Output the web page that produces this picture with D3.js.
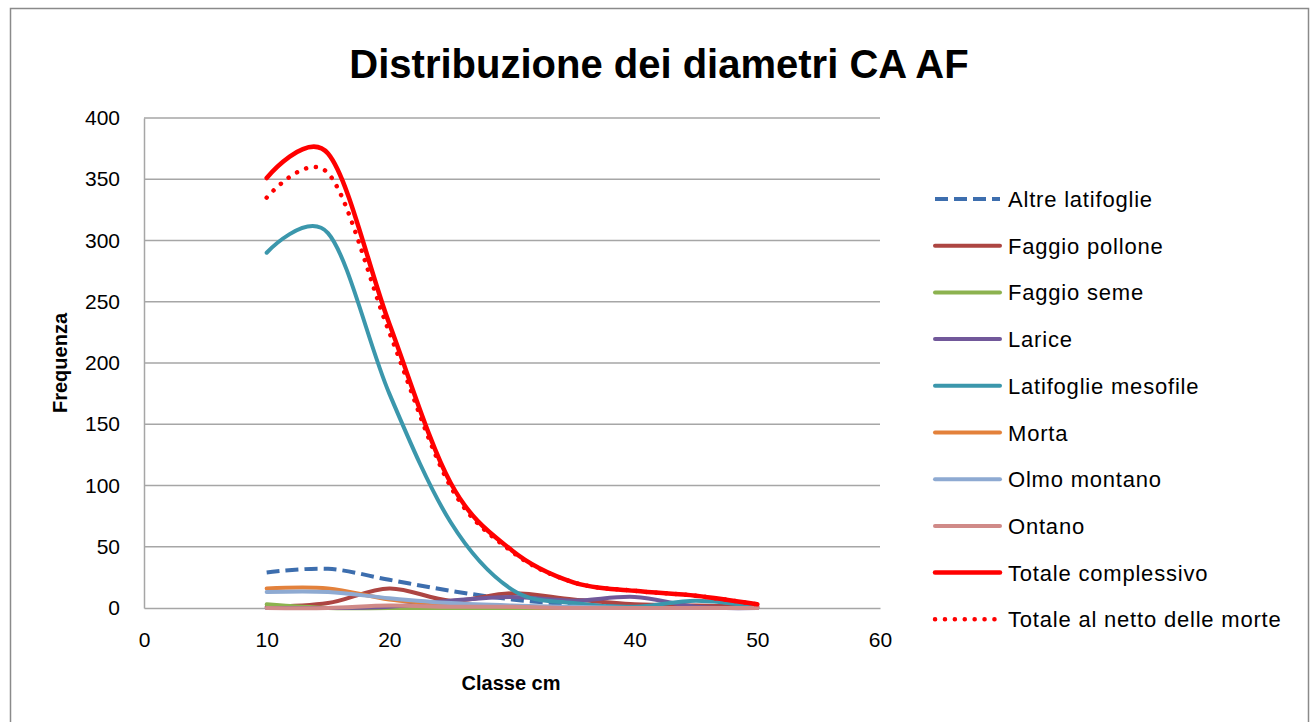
<!DOCTYPE html>
<html>
<head>
<meta charset="utf-8">
<script src="https://cdn.jsdelivr.net/npm/d3@7"></script>
<style>
  html, body { margin: 0; padding: 0; background: #fff; }
  svg { display: block; }
  text { font-family: "Liberation Sans", Arial, sans-serif; fill: #000; }
</style>
</head>
<body>
<svg id="chart" width="1312" height="722"></svg>
<script>
// ---- Data ----
const classes = [10, 15, 20, 25, 30, 35, 40, 45, 50];
const altreLatifoglie     = [29, 32, 23, 14, 7, 3, 1, 1, 0];
const faggioPollone       = [1, 4, 16, 6, 12, 7, 3, 2, 1];
const faggioSeme          = [3, 0, 0, 0, 0, 0, 0, 0, 0];
const larice              = [0, 0, 1, 6, 9, 6, 9, 1, 0];
const latifoglieMesofile  = [290, 306, 175, 70, 15, 4, 1, 6, 1];
const morta               = [16, 16, 7, 3, 1, 0, 0, 0, 0];
const olmoMontano         = [13, 13, 8, 4, 2, 1, 0, 0, 0];
const ontano              = [0, 0, 2, 1, 1, 0, 0, 0, 0];
const totaleComplessivo   = [351, 371, 232, 102, 47, 21, 14, 10, 3];
const totaleNetto         = [335, 355, 225, 99, 46, 21, 14, 10, 3];

const yTicks = [0, 50, 100, 150, 200, 250, 300, 350, 400];
const xTicks = [0, 10, 20, 30, 40, 50, 60];

const title = "Distribuzione dei diametri CA AF";
const xTitle = "Classe cm";
const yTitle = "Frequenza";

const series = [
  { name: "Altre latifoglie", values: altreLatifoglie, color: "#3d6eae", width: 4, dash: "13 6", cap: "butt" },
  { name: "Faggio pollone", values: faggioPollone, color: "#ad4542", width: 4 },
  { name: "Faggio seme", values: faggioSeme, color: "#8cb24f", width: 4 },
  { name: "Larice", values: larice, color: "#71589a", width: 4 },
  { name: "Latifoglie mesofile", values: latifoglieMesofile, color: "#3b97ac", width: 4 },
  { name: "Morta", values: morta, color: "#e3813b", width: 4 },
  { name: "Olmo montano", values: olmoMontano, color: "#8eaad2", width: 4 },
  { name: "Ontano", values: ontano, color: "#d08a88", width: 4 },
  { name: "Totale complessivo", values: totaleComplessivo, color: "#ff0000", width: 4.5 },
  { name: "Totale al netto delle morte", values: totaleNetto, color: "#ff0000", width: 4.5, dash: "0.1 9.8", cap: "round" }
];

// ---- Layout ----
const svg = d3.select("#chart");
const plot = { left: 144, right: 880, top: 118, bottom: 608 };

// outer frame
svg.append("rect")
  .attr("x", 10.5).attr("y", 8.5)
  .attr("width", 1298).attr("height", 730)
  .attr("fill", "none").attr("stroke", "#8a8a8a").attr("stroke-width", 1.5);

const x = d3.scaleLinear().domain([0, 60]).range([plot.left, plot.right]);
const y = d3.scaleLinear().domain([0, 400]).range([plot.bottom, plot.top]);

// gridlines
svg.append("g").selectAll("line").data(yTicks.filter(d => d > 0)).join("line")
  .attr("x1", plot.left).attr("x2", plot.right)
  .attr("y1", d => y(d)).attr("y2", d => y(d))
  .attr("stroke", "#a6a6a6").attr("stroke-width", 1.5);

// axes
const yAxis = svg.append("g").attr("transform", `translate(${plot.left},0)`)
  .call(d3.axisLeft(y).tickValues(yTicks).tickSize(0).tickPadding(24));
const xAxis = svg.append("g").attr("transform", `translate(0,${plot.bottom})`)
  .call(d3.axisBottom(x).tickValues(xTicks).tickSize(0).tickPadding(24));
[yAxis, xAxis].forEach(a => {
  a.select(".domain").attr("stroke", "#a6a6a6").attr("stroke-width", 1.5);
  a.selectAll("text").style("font-size", "21px").style("font-family", "'Liberation Sans', Arial, sans-serif").attr("fill", "#000");
});

// lines
const line = d3.line()
  .x((d, i) => x(classes[i]))
  .y(d => y(d))
  .curve(d3.curveCatmullRom.alpha(0));

const gLines = svg.append("g");
series.forEach(s => {
  gLines.append("path")
    .datum(s.values)
    .attr("d", line)
    .attr("fill", "none")
    .attr("stroke", s.color)
    .attr("stroke-width", s.width)
    .attr("stroke-linecap", s.cap || "round")
    .attr("stroke-linejoin", "round")
    .attr("stroke-dasharray", s.dash || null);
});

// title
svg.append("text")
  .attr("x", 659).attr("y", 78)
  .attr("text-anchor", "middle")
  .style("font-size", "40px").style("font-weight", "bold")
  .text(title);

// axis titles
svg.append("text")
  .attr("x", 511).attr("y", 690)
  .attr("text-anchor", "middle")
  .style("font-size", "20px").style("font-weight", "bold")
  .text(xTitle);
svg.append("text")
  .attr("transform", "translate(67,363) rotate(-90)")
  .attr("text-anchor", "middle")
  .style("font-size", "20px").style("font-weight", "bold")
  .text(yTitle);

// legend
const legend = svg.append("g");
const ly0 = 199, lstep = 46.7;
series.forEach((s, i) => {
  const cy = ly0 + i * lstep;
  legend.append("line")
    .attr("x1", 935).attr("x2", 1000)
    .attr("y1", cy).attr("y2", cy)
    .attr("stroke", s.color)
    .attr("stroke-width", s.width)
    .attr("stroke-linecap", s.cap || "round")
    .attr("stroke-dasharray", s.dash || null);
  legend.append("text")
    .attr("x", 1008).attr("y", cy + 8)
    .style("font-size", "22px")
    .style("letter-spacing", "0.8px")
    .text(s.name);
});
</script>
</body>
</html>
